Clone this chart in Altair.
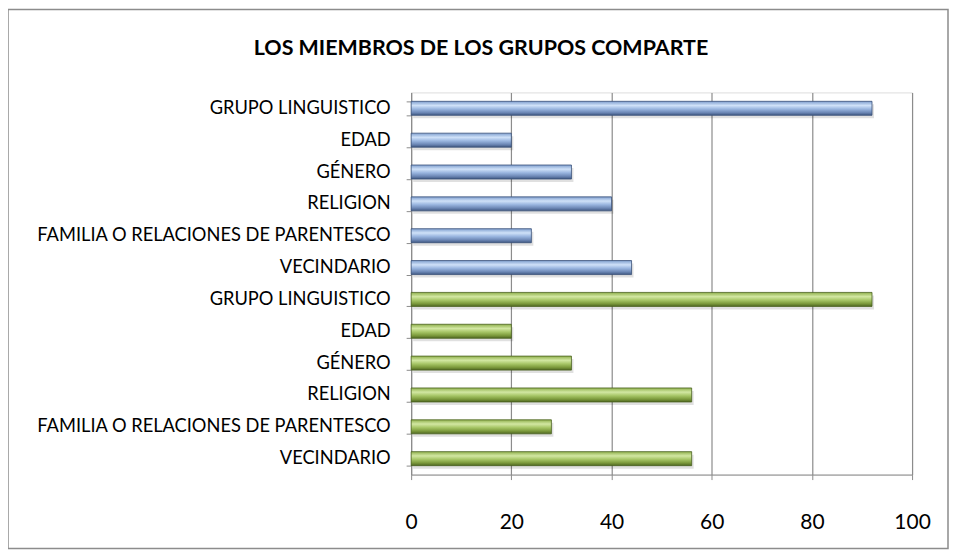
import altair as alt
import pandas as pd

categories = ["GRUPO LINGUISTICO", "EDAD", "GÉNERO", "RELIGION",
              "FAMILIA O RELACIONES DE PARENTESCO", "VECINDARIO"]
values_blue = [92, 20, 32, 40, 24, 44]
values_green = [92, 20, 32, 56, 28, 56]
x_ticks = [0, 20, 40, 60, 80, 100]
title_text = "LOS MIEMBROS DE LOS GRUPOS COMPARTE"

rows = []
i = 0
for series, vals in (("blue", values_blue), ("green", values_green)):
    for cat, v in zip(categories, vals):
        rows.append({"key": f"{i:02d}|{cat}", "label": cat, "value": v, "series": series})
        i += 1
df = pd.DataFrame(rows)
order = list(df["key"])

FONT = "Lato"
GRAY = "#8c8c8c"

blue_grad = alt.Gradient(
    gradient="linear", x1=0, y1=0, x2=0, y2=1,
    stops=[
        alt.GradientStop(color="#7f9fcf", offset=0),
        alt.GradientStop(color="#cfe1f8", offset=0.3),
        alt.GradientStop(color="#9ab6e0", offset=0.55),
        alt.GradientStop(color="#6d88b6", offset=0.8),
        alt.GradientStop(color="#3f5781", offset=1),
    ],
)
green_grad = alt.Gradient(
    gradient="linear", x1=0, y1=0, x2=0, y2=1,
    stops=[
        alt.GradientStop(color="#8fb04c", offset=0),
        alt.GradientStop(color="#d2e7a2", offset=0.3),
        alt.GradientStop(color="#a7c667", offset=0.55),
        alt.GradientStop(color="#7c9a3c", offset=0.8),
        alt.GradientStop(color="#4f6722", offset=1),
    ],
)

y_enc = alt.Y(
    "key:N", sort=order, title=None,
    scale=alt.Scale(paddingInner=0.56, paddingOuter=0.28),
    axis=alt.Axis(
        labelExpr="split(datum.label, '|')[1]",
        labelFont=FONT, labelFontSize=18.3, labelColor="#000000",
        labelPadding=16, tickBand="extent", tickSize=5,
        tickColor=GRAY, domainColor=GRAY, grid=False, labelLimit=500,
    ),
)
x_enc = alt.X(
    "value:Q", title=None,
    scale=alt.Scale(domain=[0, 100], nice=False),
    axis=alt.Axis(
        values=x_ticks, labelFont=FONT, labelFontSize=21, labelColor="#000000",
        labelPadding=32, labelFlush=False, tickSize=5, tickColor=GRAY,
        domainColor=GRAY, grid=True, gridColor=GRAY, gridWidth=1.2,
    ),
)

base = alt.Chart(df)

shadow = base.mark_bar(color="#000000", opacity=0.12, yOffset=3, xOffset=2).encode(
    x=x_enc, y=y_enc)

blue = base.transform_filter(alt.datum.series == "blue").mark_bar(
    color=blue_grad, stroke="#3a5078", strokeWidth=0.8
).encode(x=x_enc, y=y_enc)

green = base.transform_filter(alt.datum.series == "green").mark_bar(
    color=green_grad, stroke="#4a6220", strokeWidth=0.8
).encode(x=x_enc, y=y_enc)

one = pd.DataFrame({"t": [title_text]})

border = alt.Chart(one).mark_rect(
    fill="transparent", stroke=GRAY, strokeWidth=1.5
).encode(
    x=alt.value(-404), x2=alt.value(538),
    y=alt.value(-83), y2=alt.value(457),
)

title = alt.Chart(one).mark_text(
    font=FONT, fontSize=21.5, fontWeight="bold", color="#000000",
    align="center", baseline="middle",
).encode(x=alt.value(70), y=alt.value(-43), text="t:N")

chart = alt.layer(border, shadow, blue, green, title).properties(
    width=502, height=383,
    autosize=alt.AutoSizeParams(type="none"),
    padding={"left": 404, "top": 84, "right": 37, "bottom": 75},
).configure_view(strokeWidth=0).configure(background="#ffffff")

chart.save("out.html", embed_options={"renderer": "svg", "actions": False})
